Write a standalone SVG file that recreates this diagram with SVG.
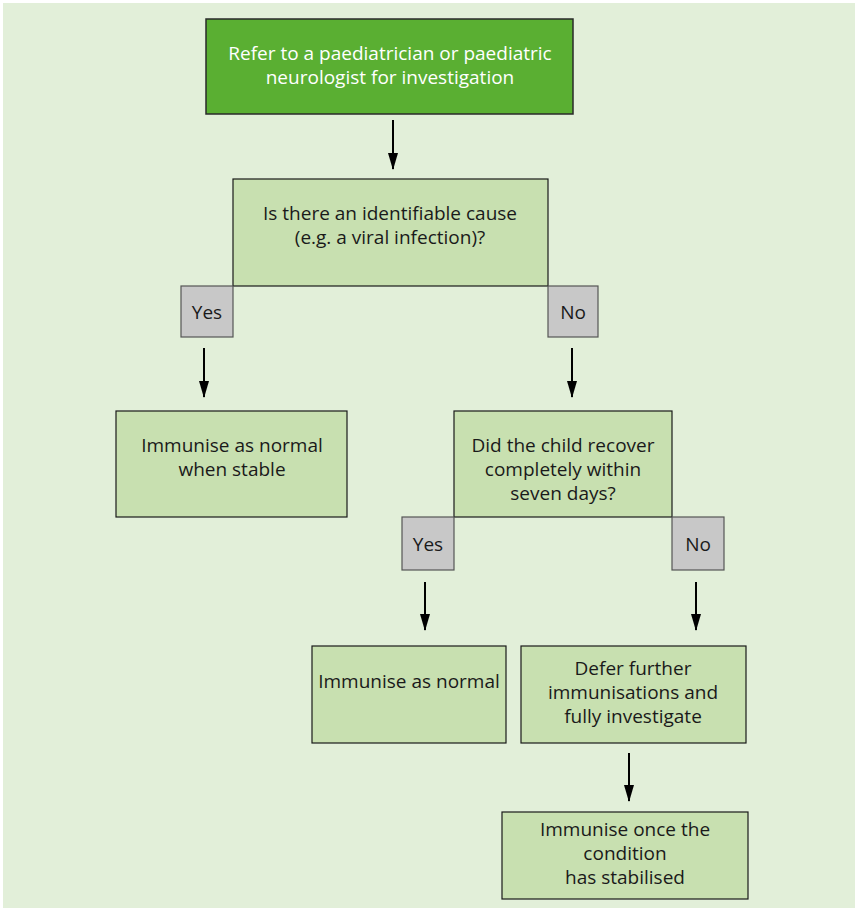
<svg xmlns="http://www.w3.org/2000/svg" width="855" height="908" viewBox="0 0 855 908">
<defs>
<style>
.bg{fill:#e2efd9}
.box{fill:#c8e0b0;stroke:#1a1a1a;stroke-width:1.2}
.top{fill:#5aaf32;stroke:#2a2a2a;stroke-width:1.5}
.lab{fill:#c8c8c8;stroke:#555;stroke-width:1.2}
text{font-family:"Open Sans","Noto Sans",sans-serif;font-size:19px;fill:#1a1a1a;text-anchor:middle}
.w{fill:#ffffff}
.arr{stroke:#000;stroke-width:2;fill:none;marker-end:url(#ah)}
</style>
<marker id="ah" markerWidth="17" markerHeight="10" refX="16" refY="5" orient="auto" markerUnits="userSpaceOnUse" viewBox="0 0 17 10">
<path d="M0,0 L17,5 L0,10 Z" fill="#000"/>
</marker>
</defs>
<rect x="0" y="0" width="855" height="908" fill="#ffffff"/>
<rect class="bg" x="3" y="3" width="852" height="905"/>

<g id="connectors">
<line class="arr" x1="393" y1="120" x2="393" y2="169"/>
<line class="arr" x1="204" y1="348" x2="204" y2="397"/>
<line class="arr" x1="572" y1="348" x2="572" y2="397"/>
<line class="arr" x1="425" y1="582" x2="425" y2="630"/>
<line class="arr" x1="696" y1="582" x2="696" y2="630"/>
<line class="arr" x1="629" y1="753" x2="629" y2="801"/>
</g>

<g id="refer">
<rect class="top" x="206" y="19" width="367" height="95"/>
<text class="w" x="390" y="60">Refer to a paediatrician or paediatric</text>
<text class="w" x="390" y="84">neurologist for investigation</text>
</g>

<g id="q1">
<rect class="box" x="233" y="179" width="315" height="107"/>
<text x="390" y="220">Is there an identifiable cause</text>
<text x="390" y="244">(e.g. a viral infection)?</text>
</g>

<g id="yes1">
<rect class="lab" x="181" y="286" width="52" height="51"/>
<text x="207" y="319">Yes</text>
</g>

<g id="no1">
<rect class="lab" x="548" y="286" width="50" height="51"/>
<text x="573" y="319">No</text>
</g>

<g id="stable">
<rect class="box" x="116" y="411" width="231" height="106"/>
<text x="232" y="452">Immunise as normal</text>
<text x="232" y="476">when stable</text>
</g>

<g id="q2">
<rect class="box" x="454" y="411" width="218" height="106"/>
<text x="563" y="452">Did the child recover</text>
<text x="563" y="476">completely within</text>
<text x="563" y="500">seven days?</text>
</g>

<g id="yes2">
<rect class="lab" x="402" y="517" width="52" height="53"/>
<text x="428" y="551">Yes</text>
</g>

<g id="no2">
<rect class="lab" x="672" y="517" width="52" height="53"/>
<text x="698" y="551">No</text>
</g>

<g id="normal">
<rect class="box" x="312" y="646" width="194" height="97"/>
<text x="409" y="688">Immunise as normal</text>
</g>

<g id="defer">
<rect class="box" x="521" y="646" width="225" height="97"/>
<text x="633" y="675">Defer further</text>
<text x="633" y="699">immunisations and</text>
<text x="633" y="723">fully investigate</text>
</g>

<g id="stabilised">
<rect class="box" x="502" y="812" width="246" height="87"/>
<text x="625" y="836">Immunise once the</text>
<text x="625" y="860">condition</text>
<text x="625" y="884">has stabilised</text>
</g>
</svg>
